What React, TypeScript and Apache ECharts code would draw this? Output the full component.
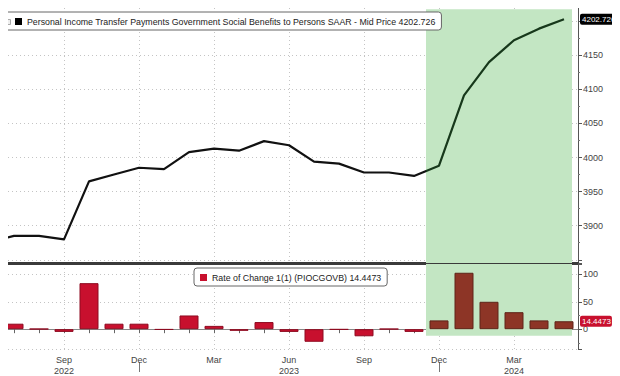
import React, { useEffect, useRef } from "react";
import * as echarts from "echarts";

// Monthly observations, Jun 2022 .. May 2024
const months = [
  "Jun 2022", "Jul 2022", "Aug 2022", "Sep 2022", "Oct 2022", "Nov 2022", "Dec 2022",
  "Jan 2023", "Feb 2023", "Mar 2023", "Apr 2023", "May 2023", "Jun 2023", "Jul 2023",
  "Aug 2023", "Sep 2023", "Oct 2023", "Nov 2023", "Dec 2023",
  "Jan 2024", "Feb 2024", "Mar 2024", "Apr 2024", "May 2024",
];
const benefits = [
  3876, 3885, 3885, 3880, 3965, 3975, 3985,
  3983, 4008, 4013, 4010, 4024, 4018, 3994,
  3991, 3978, 3978, 3973, 3988,
  4091, 4140, 4172, 4189, 4202.726,
];
const rateOfChange: (number | null)[] = [
  null, 10, 0.5, -5, 84, 10, 10,
  -1, 25, 6, -3, 13, -5, -23,
  -0.8, -13, 0.4, -5, 16,
  103, 50, 31, 16, 14.4473,
];
const quarterLabels: Record<string, string> = {
  "Sep 2022": "Sep\n2022", "Dec 2022": "Dec", "Mar 2023": "Mar", "Jun 2023": "Jun\n2023",
  "Sep 2023": "Sep", "Dec 2023": "Dec", "Mar 2024": "Mar\n2024",
};
const yearBreaks = ["Dec 2022", "Dec 2023"];
const topTickLabels = [3900, 3950, 4000, 4050, 4100, 4150];
const bottomTickLabels = [0, 50, 100];
const shadeStart = 17.48; // between Nov 2023 and Dec 2023
const shadeEnd = 23.32;

const lineName = "Personal Income Transfer Payments Government Social Benefits to Persons SAAR - Mid Price";
const barName = "Rate of Change 1(1) (PIOCGOVB)";

const FONT = "'Liberation Sans', Arial, sans-serif";

export default function App() {
  const ref = useRef<HTMLDivElement>(null);
  useEffect(() => {
    if (!ref.current) return;
    const chart = echarts.init(ref.current, undefined, { renderer: "svg" });
    const idx = (m: string) => months.indexOf(m);
    const quarterVals = Object.keys(quarterLabels).map(idx);
    const monthVals = months.map((_, i) => i).filter((i) => i >= 1);
    const lastLine = benefits[benefits.length - 1];
    const lastBar = rateOfChange[rateOfChange.length - 1] as number;
    const xMin = 0.44;
    const xMax = 23.56;
    const grid = { color: "#c4c4c4", type: [1, 3] as any, width: 1 };
    const stop = shadeStart / (benefits.length - 1);

    const xBase = (gridIndex: number) => ({
      type: "value",
      gridIndex,
      min: xMin,
      max: xMax,
      position: "bottom",
    });
    const tagLabel = (text: string, bg: string) => ({
      show: true,
      position: "end",
      distance: 2,
      formatter: () => text,
      backgroundColor: bg,
      color: "#fff",
      fontSize: 8,
      padding: [2, 1, 1, 2],
      borderRadius: 2,
      fontFamily: FONT,
      opacity: 1,
    });

    const option: any = {
      animation: false,
      textStyle: { fontFamily: FONT },
      grid: [
        { left: 0, right: 42, top: 0, height: 263 },
        { left: 0, right: 42, top: 264, height: 90 },
      ],
      legend: [
        {
          left: 2,
          top: 12,
          padding: [5, 6, 4, 13],
          itemWidth: 7,
          itemHeight: 7,
          borderColor: "#666",
          borderWidth: 1,
          borderRadius: 3,
          backgroundColor: "#fff",
          selectedMode: false,
          textStyle: { fontSize: 8.8, color: "#222", fontFamily: FONT },
          data: [{ name: lineName, icon: "rect", itemStyle: { color: "#000" } }],
          formatter: (n: string) => n + " " + lastLine,
          z: 10,
        },
        {
          left: 194,
          top: 268,
          padding: [5, 6, 4, 6],
          itemWidth: 7,
          itemHeight: 7,
          borderColor: "#666",
          borderWidth: 1,
          borderRadius: 3,
          backgroundColor: "#fff",
          selectedMode: false,
          textStyle: { fontSize: 8.8, color: "#222", fontFamily: FONT },
          data: [{ name: barName, icon: "rect", itemStyle: { color: "#c8102e" } }],
          formatter: (n: string) => n + " " + lastBar,
          z: 10,
        },
      ],
      graphic: [
        {
          type: "rect",
          left: 6,
          top: 19,
          z: 20,
          shape: { width: 4, height: 5 },
          style: { fill: "#eee", stroke: "#aaa", lineWidth: 1 },
        },
      ],
      xAxis: [
        {
          ...xBase(0),
          axisLine: { show: true, lineStyle: { color: "#3a3a3a", width: 3 } },
          axisTick: { show: false, customValues: quarterVals },
          axisLabel: { show: false },
          splitLine: { show: true, lineStyle: grid },
        },
        {
          ...xBase(1),
          axisLine: { show: true, lineStyle: { color: "#888", width: 1 } },
          axisTick: { show: true, customValues: monthVals, length: 4, lineStyle: { color: "#666" } },
          axisLabel: { show: false },
          splitLine: { show: false },
        },
        {
          ...xBase(1),
          axisLine: { show: false },
          axisTick: { show: false, customValues: quarterVals },
          axisLabel: {
            show: true,
            customValues: quarterVals,
            formatter: (v: number) => quarterLabels[months[Math.round(v)]] || "",
            fontSize: 9,
            color: "#444",
            lineHeight: 11,
            margin: 5,
            fontFamily: FONT,
          },
          splitLine: { show: true, lineStyle: grid },
        },
        {
          ...xBase(1),
          offset: 13,
          axisLine: { show: false },
          axisTick: { show: true, customValues: yearBreaks.map(idx), length: 10, lineStyle: { color: "#777" } },
          axisLabel: { show: false },
          splitLine: { show: false },
        },
      ],
      yAxis: [
        {
          type: "value",
          gridIndex: 0,
          position: "right",
          min: 3845.3,
          max: 4231,
          splitNumber: 8,
          axisLine: { show: true, lineStyle: { color: "#555" } },
          axisTick: { show: true, length: 4, lineStyle: { color: "#555" } },
          minorTick: { show: true, splitNumber: 2, length: 2, lineStyle: { color: "#777" } },
          axisLabel: {
            showMinLabel: false,
            showMaxLabel: false,
            fontSize: 9,
            color: "#444",
            margin: 5,
            fontFamily: FONT,
            formatter: (v: number) => (topTickLabels.includes(v) ? String(v) : ""),
          },
          splitLine: { show: true, lineStyle: grid },
        },
        {
          type: "value",
          gridIndex: 1,
          position: "right",
          min: -36.2,
          max: 119,
          splitNumber: 3,
          axisLine: { show: true, lineStyle: { color: "#555" } },
          axisTick: { show: true, length: 4, lineStyle: { color: "#555" } },
          minorTick: { show: true, splitNumber: 2, length: 2, lineStyle: { color: "#777" } },
          axisLabel: {
            showMinLabel: false,
            showMaxLabel: false,
            fontSize: 9,
            color: "#444",
            margin: 5,
            fontFamily: FONT,
            formatter: (v: number) => (bottomTickLabels.includes(v) ? String(v) : ""),
          },
          splitLine: { show: true, lineStyle: grid },
        },
      ],
      series: [
        {
          name: lineName,
          type: "line",
          xAxisIndex: 0,
          yAxisIndex: 0,
          data: benefits.map((v, i) => [i, v]),
          showSymbol: false,
          symbol: "none",
          color: "#000",
          lineStyle: {
            width: 2.2,
            color: new echarts.graphic.LinearGradient(0, 0, 1, 0, [
              { offset: 0, color: "#111" },
              { offset: stop, color: "#111" },
              { offset: stop, color: "#17381b" },
              { offset: 1, color: "#17381b" },
            ]),
          },
          clip: true,
          markArea: {
            silent: true,
            itemStyle: { color: "#c3e6c3" },
            data: [[{ xAxis: shadeStart, yAxis: 4217.5 }, { xAxis: shadeEnd, yAxis: 3845.3 }]],
          },
          markLine: {
            silent: true,
            symbol: "none",
            lineStyle: { color: "rgba(0,0,0,0)", width: 1, type: "solid" },
            label: tagLabel(String(lastLine), "#000"),
            emphasis: { disabled: true },
            data: [{ yAxis: lastLine }],
          },
        },
        {
          name: barName,
          type: "bar",
          xAxisIndex: 1,
          yAxisIndex: 1,
          barWidth: 19,
          color: "#c8102e",
          data: rateOfChange.map((v, i) => ({
            value: [i, v],
            itemStyle:
              i >= shadeStart
                ? { color: "#8d3526", borderColor: "#5e2418", borderWidth: 1 }
                : { color: "#c8102e", borderColor: "#8e0b20", borderWidth: 1 },
          })),
          markArea: {
            silent: true,
            itemStyle: { color: "#c3e6c3" },
            data: [[{ xAxis: shadeStart, yAxis: 119 }, { xAxis: shadeEnd, yAxis: -12 }]],
          },
          markLine: {
            silent: true,
            symbol: "none",
            lineStyle: { color: "rgba(0,0,0,0)", width: 1, type: "solid" },
            label: tagLabel(String(lastBar), "#c8102e"),
            emphasis: { disabled: true },
            data: [{ yAxis: lastBar }],
          },
        },
      ],
    };
    chart.setOption(option);
    return () => chart.dispose();
  }, []);
  return <div ref={ref} style={{ width: 620, height: 376, marginLeft: -8, marginTop: -8 }} />;
}
